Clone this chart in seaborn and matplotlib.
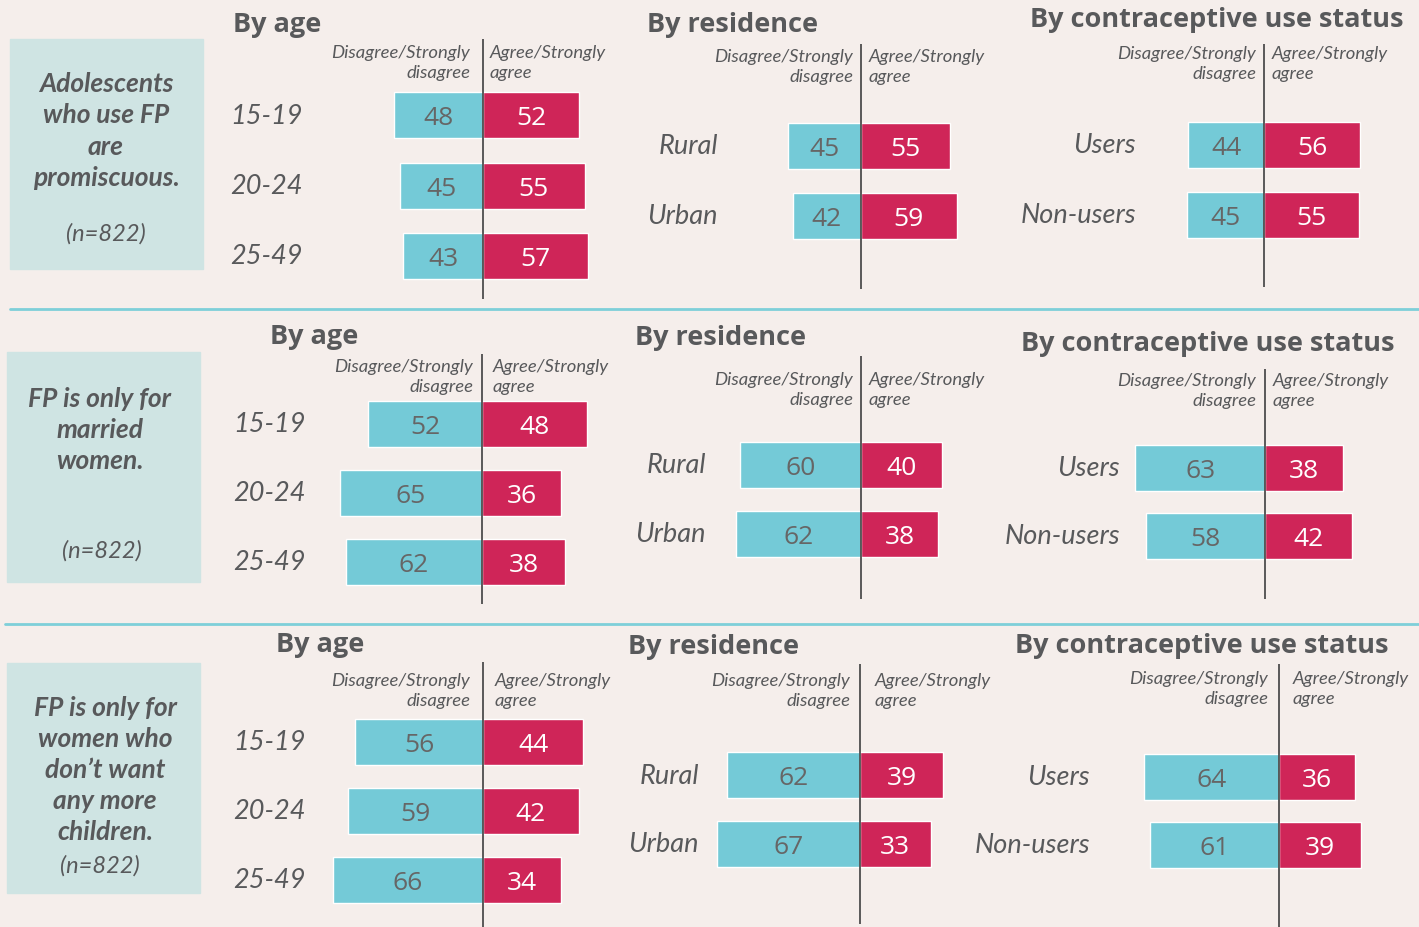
import matplotlib
matplotlib.use("Agg")
import matplotlib.pyplot as plt
import matplotlib.transforms as mtransforms
import seaborn as sns
import pandas as pd

# =========================
# DATA
# =========================
age_cats = ["15-19", "20-24", "25-49"]
res_cats = ["Rural", "Urban"]
use_cats = ["Users", "Non-users"]

statements = [
    "Adolescents\nwho use FP\nare\npromiscuous.",
    "FP is only for\nmarried\nwomen.",
    "FP is only for\nwomen who\ndon\u2019t want\nany more\nchildren.",
]
sample_label = "(n=822)"

panel_titles = ["By age", "By residence", "By contraceptive use status"]
dis_header = "Disagree/Strongly\ndisagree"
agr_header = "Agree/Strongly\nagree"

# row 1 : promiscuous
r1_age_dis = [48, 45, 43]
r1_age_agr = [52, 55, 57]
r1_res_dis = [45, 42]
r1_res_agr = [55, 59]
r1_use_dis = [44, 45]
r1_use_agr = [56, 55]

# row 2 : married women
r2_age_dis = [52, 65, 62]
r2_age_agr = [48, 36, 38]
r2_res_dis = [60, 62]
r2_res_agr = [40, 38]
r2_use_dis = [63, 58]
r2_use_agr = [38, 42]

# row 3 : no more children
r3_age_dis = [56, 59, 66]
r3_age_agr = [44, 42, 34]
r3_res_dis = [62, 67]
r3_res_agr = [39, 33]
r3_use_dis = [64, 61]
r3_use_agr = [36, 39]

# =========================
# STYLE
# =========================
W, H = 1419, 928
BG = "#F5EEEB"
BOX = "#CFE4E3"
BLUE = "#74CAD7"
RED = "#CF2558"
TXT = "#58595B"
SEP = "#7ECFD9"
BAR_H = 46  # px
GEO = ["Open Sans", "DejaVu Sans"]

sns.set_theme(style="white")
plt.rcParams["font.family"] = ["Lato", "DejaVu Sans"]

fig = plt.figure(figsize=(W / 100, H / 100), dpi=100, facecolor=BG)


def fx(x):
    return x / W


def fy(y):
    return 1 - y / H


def draw_panel(cats, dis, agr, cx, s, y0, step, top, bot, hdr, lab_x, lab_ha):
    half = 90
    ax = fig.add_axes([fx(cx - half * s), fy(bot), 2 * half * s / W, (bot - top) / H])
    ax.set_facecolor("none")
    df = pd.DataFrame({"cat": cats, "dis": [-v for v in dis], "agr": agr})
    sns.barplot(data=df, x="dis", y="cat", color=BLUE, saturation=1,
                width=BAR_H / step, errorbar=None, ax=ax, orient="h")
    sns.barplot(data=df, x="agr", y="cat", color=RED, saturation=1,
                width=BAR_H / step, errorbar=None, ax=ax, orient="h")
    ax.set_xlim(-half, half)
    ax.set_ylim((bot - y0) / step, (top - y0) / step)
    ax.axvline(0, color="#4D4D4D", lw=1.3)
    ax.axis("off")

    for i, (d, a) in enumerate(zip(dis, agr)):
        ax.annotate(str(d), (-d / 2, i), xytext=(0, -2), textcoords="offset points",
                    ha="center", va="center", fontsize=19, color="#666666", family=GEO)
        ax.annotate(str(a), (a / 2, i), xytext=(0, -2), textcoords="offset points",
                    ha="center", va="center", fontsize=19, color="white", family=GEO)

    blend = mtransforms.blended_transform_factory(fig.transFigure, ax.transData)
    for i, c in enumerate(cats):
        ax.text(fx(lab_x), i, c, transform=blend, ha=lab_ha, va="center",
                fontsize=19.5, style="italic", color=TXT)

    dis_r, agr_l, hy = hdr
    fig.text(fx(dis_r), fy(hy), dis_header, ha="right", va="center",
             fontsize=13.3, style="italic", color=TXT, linespacing=1.3,
             multialignment="right")
    fig.text(fx(agr_l), fy(hy), agr_header, ha="left", va="center",
             fontsize=13.3, style="italic", color=TXT, linespacing=1.3,
             multialignment="left")
    return ax


# =========================
# LEFT BOXES
# =========================
boxes = [(10, 40, 203, 270), (7, 353, 200, 583), (7, 664, 200, 894)]
stmt_pos = [(106, 131), (100, 430), (105, 770)]
n_pos = [(106, 234), (102, 551), (100, 866)]
for (x0, y0, x1, y1), (sx, sy), (nx, ny), stmt in zip(boxes, stmt_pos, n_pos, statements):
    fig.patches.append(plt.Rectangle((fx(x0), fy(y1)), (x1 - x0) / W, (y1 - y0) / H,
                                     transform=fig.transFigure, color=BOX, zorder=0))
    fig.text(fx(sx), fy(sy), stmt, ha="center", va="center", fontsize=19,
             style="italic", weight="bold", color=TXT, linespacing=1.36)
    fig.text(fx(nx), fy(ny), sample_label, ha="center", va="center",
             fontsize=17, style="italic", color=TXT)

# separators
for y, x0 in [(310, 10), (625, 5)]:
    fig.add_artist(plt.Line2D([fx(x0), 1], [fy(y), fy(y)], color=SEP, lw=2,
                              transform=fig.transFigure))

# =========================
# PANELS
# =========================
panels = [
    # cats, dis, agr, cx, scale, y first bar, step, line top, line bottom, title (x, y), header (dis right, agr left, y), label x, ha
    (age_cats, r1_age_dis, r1_age_agr, 483, 1.85, 116, 70.5, 40, 300, (233, 25), (470, 490, 63), 230, "left"),
    (res_cats, r1_res_dis, r1_res_agr, 861, 1.62, 147, 70, 45, 290, (647, 25), (853, 869, 67), 718, "right"),
    (use_cats, r1_use_dis, r1_use_agr, 1264, 1.72, 146, 70, 45, 288, (1030, 20), (1256, 1272, 64), 1136, "right"),
    (age_cats, r2_age_dis, r2_age_agr, 482, 2.19, 425, 69, 355, 605, (270, 337), (473, 493, 377), 233, "left"),
    (res_cats, r2_res_dis, r2_res_agr, 861, 2.02, 466, 69, 357, 600, (635, 338), (853, 869, 390), 706, "right"),
    (use_cats, r2_use_dis, r2_use_agr, 1265, 2.06, 469, 68, 370, 600, (1021, 344), (1256, 1273, 391), 1120, "right"),
    (age_cats, r3_age_dis, r3_age_agr, 483, 2.28, 743, 69, 663, 928, (276, 645), (470, 495, 691), 233, "left"),
    (res_cats, r3_res_dis, r3_res_agr, 860, 2.14, 776, 69, 665, 925, (628, 647), (850, 875, 691), 699, "right"),
    (use_cats, r3_use_dis, r3_use_agr, 1279, 2.11, 778, 68, 665, 928, (1015, 646), (1268, 1293, 689), 1090, "right"),
]

for k, (cats, dis, agr, cx, s, y0, step, top, bot, txy, hdr, lx, lha) in enumerate(panels):
    draw_panel(cats, dis, agr, cx, s, y0, step, top, bot, hdr, lx, lha)
    fig.text(fx(txy[0]), fy(txy[1]), panel_titles[k % 3], ha="left", va="center",
             fontsize=19.5, weight="bold", color=TXT, family=GEO)

fig.savefig("out.png", dpi=100, facecolor=BG)
